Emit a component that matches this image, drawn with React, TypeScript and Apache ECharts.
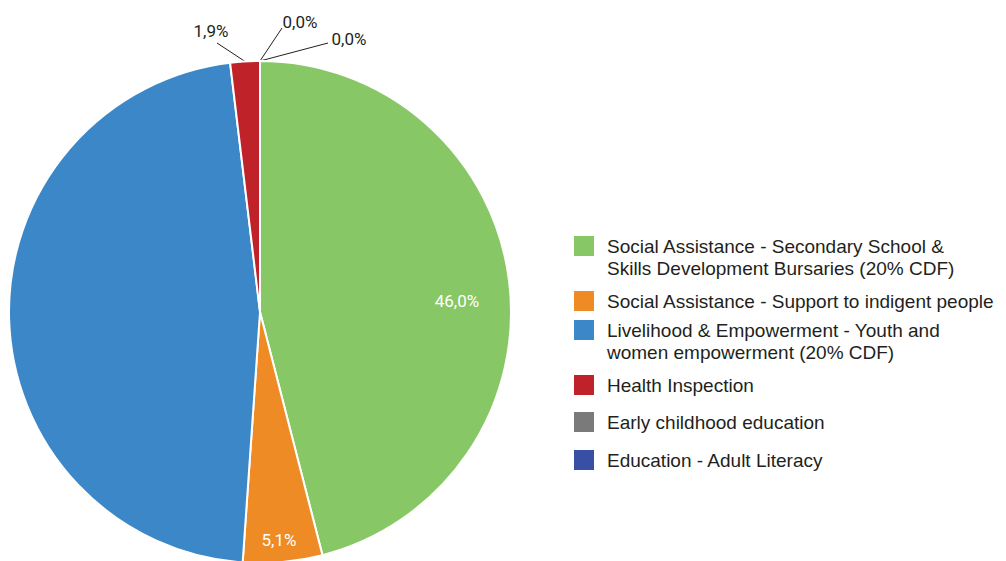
import React, { useEffect, useRef } from "react";
import * as echarts from "echarts";

const categories = [
  "Social Assistance - Secondary School & Skills Development Bursaries (20% CDF)",
  "Social Assistance - Support to indigent people",
  "Livelihood & Empowerment - Youth and women empowerment (20% CDF)",
  "Health Inspection",
  "Early childhood education",
  "Education - Adult Literacy",
];
const legendLabels = [
  "Social Assistance - Secondary School &\nSkills Development Bursaries (20% CDF)",
  "Social Assistance - Support to indigent people",
  "Livelihood & Empowerment - Youth and\nwomen empowerment (20% CDF)",
  "Health Inspection",
  "Early childhood education",
  "Education - Adult Literacy",
];
const values = [46.0, 5.1, 47.0, 1.9, 0.0, 0.0];
const colors = ["#88C766", "#EE8B25", "#3B87C8", "#C0222A", "#7A7A7A", "#3750A5"];
const labelShown = [true, true, false, true, true, true];
const labelInside = [true, true, false, false, false, false];

// label placements (text centre, and where the leader line meets the text)
const labelPos: (number[] | null)[] = [
  [457, 301],
  [279, 540],
  null,
  [211, 31],
  [300, 22],
  [349, 39],
];
const lineEnd: (number[] | null)[] = [null, null, null, [217, 43], [282, 28], [328, 43]];
const legendIconTops = [235, 289, 319, 373, 410, 448];

const TEXT = "#231F20";
const LEGEND_FONT = "'Liberation Sans', Arial, Helvetica, sans-serif";
const LABEL_FONT = "Roboto, 'DejaVu Sans Condensed', sans-serif";

export default function App() {
  const ref = useRef<HTMLDivElement>(null);
  useEffect(() => {
    if (!ref.current) return;
    const chart = echarts.init(ref.current, undefined, { renderer: "svg" });
    const fmt = (v: number) => v.toFixed(1).replace(".", ",") + "%";
    const legends = categories.map((name, i) => {
      const twoLine = legendLabels[i].includes("\n");
      return {
        data: [name],
        orient: "vertical",
        left: 572,
        top: legendIconTops[i] - (twoLine ? 22 : 0),
        padding: 0,
        itemWidth: 22,
        itemHeight: 22,
        icon: "rect",
        selectedMode: false,
        // a leading blank line keeps the first text line level with the swatch
        formatter: () => (twoLine ? "\n" + legendLabels[i] : legendLabels[i]),
        textStyle: {
          fontSize: 19,
          fontFamily: LEGEND_FONT,
          color: TEXT,
          lineHeight: 22,
          padding: [0, 0, 0, 7],
        },
      };
    });
    chart.setOption({
      animation: false,
      color: colors,
      legend: legends,
      series: [
        {
          type: "pie",
          center: [260, 312],
          radius: 251,
          startAngle: 90,
          clockwise: true,
          avoidLabelOverlap: false,
          itemStyle: { borderColor: "#fff", borderWidth: 2 },
          data: categories.map((name, i) => ({
            name,
            value: values[i],
            label: {
              show: labelShown[i],
              position: labelInside[i] ? "inside" : "outside",
              color: labelInside[i] ? "#fff" : TEXT,
              fontSize: 17,
              fontFamily: LABEL_FONT,
              formatter: () => fmt(values[i]),
            },
            labelLine: {
              show: !labelInside[i] && labelShown[i],
              lineStyle: { color: TEXT, width: 1 },
            },
          })),
          labelLayout: (p: any) => {
            const pos = labelPos[p.dataIndex];
            if (!pos) return {};
            const out: any = { x: pos[0], y: pos[1], align: "center", verticalAlign: "middle" };
            const end = lineEnd[p.dataIndex];
            if (end && p.labelLinePoints && p.labelLinePoints.length) {
              out.labelLinePoints = [p.labelLinePoints[0], end, end];
            }
            return out;
          },
        },
      ],
    });
    return () => chart.dispose();
  }, []);
  return (
    <div
      ref={ref}
      style={{ position: "fixed", left: 0, top: 0, width: 1006, height: 561, background: "#fff" }}
    />
  );
}
